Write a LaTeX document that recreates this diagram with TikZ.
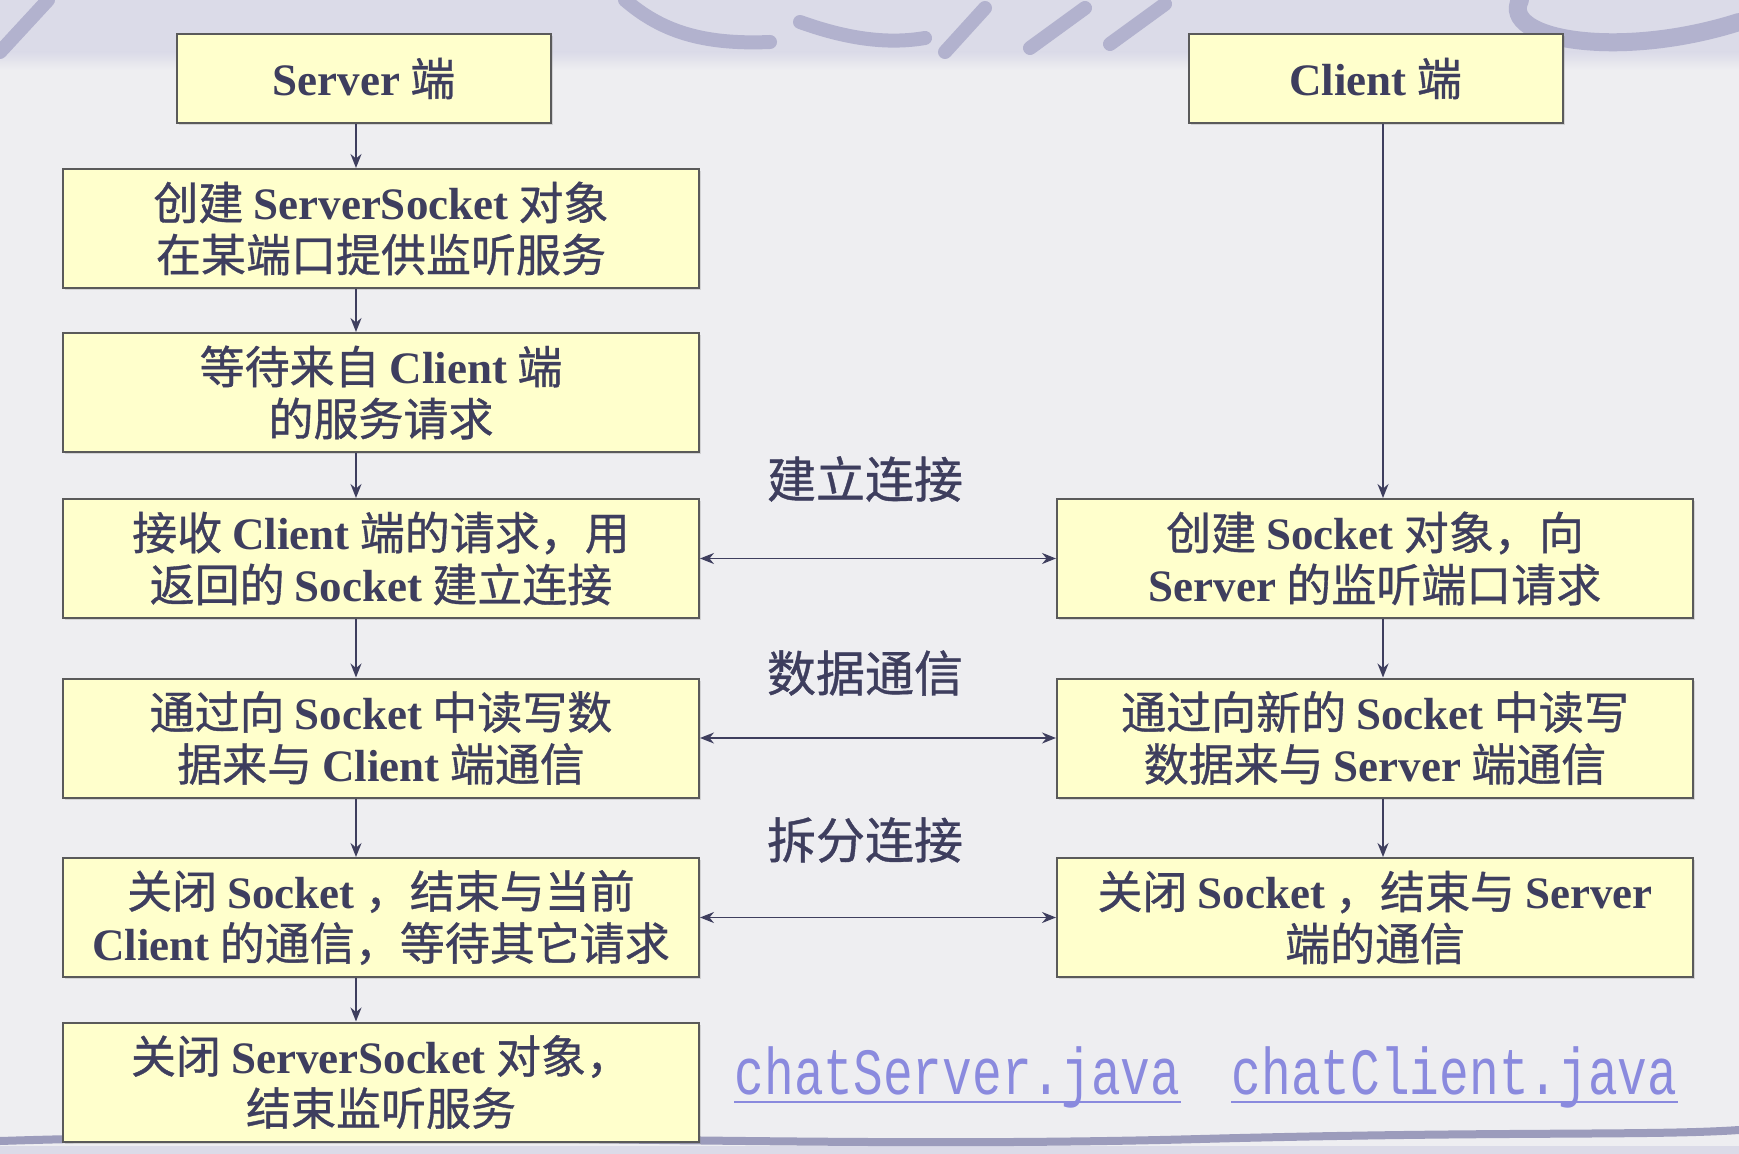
\documentclass[tikz,border=0pt]{standalone}
\usepackage{fontspec}
\setmainfont{Noto Sans CJK SC}[FakeBold=0.8]
\newfontfamily\latb{Liberation Serif}
\newfontfamily\monof{Liberation Mono}[FakeStretch=0.75]
\usetikzlibrary{arrows.meta,shadows}
\definecolor{txt}{HTML}{3E3E5E}
\definecolor{boxfill}{HTML}{FFFFCC}
\definecolor{boxline}{HTML}{5A5A5A}
\definecolor{bgc}{HTML}{EEEEF1}
\definecolor{topband}{HTML}{DBDBE8}
\definecolor{swirlc}{HTML}{B2B2CE}
\definecolor{wavec}{HTML}{9C9CBC}
\definecolor{linkc}{HTML}{8A8ADE}
\newcommand\EN[1]{{\latb\bfseries #1}}
\tikzset{
  box/.style={draw=boxline, fill=boxfill, line width=1pt, minimum width=318pt,
    minimum height=59.5pt, align=center, inner sep=0pt, text=txt,
    font=\fontsize{22.5}{26}\selectfont,
    drop shadow={shadow xshift=1pt, shadow yshift=-1pt, opacity=0.25}},
  headbox/.style={box, minimum width=187pt, minimum height=44.5pt},
  arr/.style={draw=txt, line width=0.8pt, -{Stealth[length=7pt,width=5.5pt]}},
  darr/.style={draw=txt, line width=0.8pt, {Stealth[length=7pt,width=5.5pt]}-{Stealth[length=7pt,width=5.5pt]}},
  lab/.style={text=txt, font=\fontsize{24.5}{28}\selectfont, inner sep=0pt},
  linktxt/.style={text=linkc, font=\monof\fontsize{33}{36}\selectfont, inner sep=0pt, anchor=base},
  swirl/.style={draw=swirlc, line width=7pt, line cap=round},
}
\begin{document}
\begin{tikzpicture}[x=0.5pt,y=-0.5pt]
\useasboundingbox (0,0) rectangle (1739,1154);
% background
\fill[bgc] (0,0) rectangle (1739,1154);
\fill[topband] (0,0) rectangle (1739,52);
\shade[top color=topband, bottom color=bgc] (0,52) rectangle (1739,70);
\draw[swirl] (0,52) -- (48,0);
\draw[swirl] (625,0) .. controls (660,30) and (700,45) .. (770,42);
\draw[swirl] (800,22) .. controls (850,40) and (890,44) .. (925,38);
\draw[swirl] (945,52) -- (985,8);
\draw[swirl] (1030,48) -- (1085,8);
\draw[swirl] (1110,44) -- (1165,4);
\draw[swirl, line width=9pt] (1520,0) .. controls (1500,40) and (1620,60) .. (1739,22);
\fill[topband] (0,1146) rectangle (1739,1154);
\draw[draw=wavec, line width=4pt, line cap=round] (0,1141) .. controls (400,1128) and (800,1150) .. (1200,1139) .. controls (1500,1131) and (1650,1136) .. (1739,1130);
% helper coordinates for arrow columns
\coordinate (ax) at (356,0);
\coordinate (bx) at (1383,0);
% header boxes
\node[headbox] (S) at (364,78.5) {\EN{Server} 端};
\node[headbox] (C) at (1375.5,78.5) {\EN{Client} 端};
% left column
\node[box] (L1) at (381,228.5) {创建 \EN{ServerSocket} 对象\\在某端口提供监听服务};
\node[box] (L2) at (381,392.5) {等待来自 \EN{Client} 端\\的服务请求};
\node[box] (L3) at (381,558.5) {接收 \EN{Client} 端的请求，用\\返回的 \EN{Socket} 建立连接};
\node[box] (L4) at (381,738) {通过向 \EN{Socket} 中读写数\\据来与 \EN{Client} 端通信};
\node[box] (L5) at (381,917.5) {关闭 \EN{Socket} ，结束与当前\\\EN{Client} 的通信，等待其它请求};
\node[box] (L6) at (381,1082) {关闭 \EN{ServerSocket} 对象，\\结束监听服务};
% right column
\node[box] (R1) at (1375,558.5) {创建 \EN{Socket} 对象，向\\\EN{Server} 的监听端口请求};
\node[box] (R2) at (1375,738) {通过向新的 \EN{Socket} 中读写\\数据来与 \EN{Server} 端通信};
\node[box] (R3) at (1375,917.5) {关闭 \EN{Socket} ，结束与 \EN{Server}\\端的通信};
% vertical arrows
\draw[arr] (S.south -| ax) -- (L1.north -| ax);
\draw[arr] (L1.south -| ax) -- (L2.north -| ax);
\draw[arr] (L2.south -| ax) -- (L3.north -| ax);
\draw[arr] (L3.south -| ax) -- (L4.north -| ax);
\draw[arr] (L4.south -| ax) -- (L5.north -| ax);
\draw[arr] (L5.south -| ax) -- (L6.north -| ax);
\draw[arr] (C.south -| bx) -- (R1.north -| bx);
\draw[arr] (R1.south -| bx) -- (R2.north -| bx);
\draw[arr] (R2.south -| bx) -- (R3.north -| bx);
% horizontal arrows
\draw[darr] (L3.east) -- (R1.west);
\draw[darr] (L4.east) -- (R2.west);
\draw[darr] (L5.east) -- (R3.west);
% labels
\node[lab] (t1) at (865,479) {建立连接};
\node[lab] (t2) at (865,673) {数据通信};
\node[lab] (t3) at (865,840) {拆分连接};
% links
\node[linktxt] (ls) at (957.5,1094) {chatServer.java};
\node[linktxt] (lc) at (1454.5,1094) {chatClient.java};
\draw[linkc, line width=1pt] ([yshift=-4pt]ls.base west) -- ([yshift=-4pt]ls.base east);
\draw[linkc, line width=1pt] ([yshift=-4pt]lc.base west) -- ([yshift=-4pt]lc.base east);
\end{tikzpicture}
\end{document}
